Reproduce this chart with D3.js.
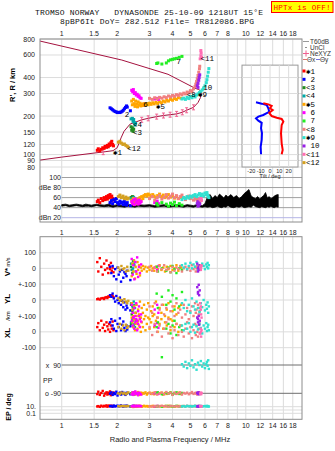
<!DOCTYPE html>
<html>
<head>
<meta charset="utf-8">
<title>Dynasonde ionogram</title>
<script src="https://cdn.jsdelivr.net/npm/d3@7"></script>
<style>
  body { margin: 0; background: #fff; }
  text { font-family: "Liberation Sans", Arial, sans-serif; }
  .mono { font-family: "Liberation Mono", "DejaVu Sans Mono", monospace; }
</style>
</head>
<body>
<svg id="mainsvg" width="335" height="451"></svg>
<script>
// ---- data ----
const freqTicksTop = [1, 1.5, 2, 3, 4, 5, 6, 7, 8, 10, 12, 14, 16, 18]
const freqTicksMid = [1, 1.5, 2, 3, 4, 5, 6, 7, 8, 9, 10, 12, 14, 16, 18]
const freqGrid = [1, 1.5, 2, 3, 4, 5, 6, 7, 8, 9, 10, 12, 14, 16, 18]
const heightTicks = [800, 600, 400, 300, 200, 150, 120, 100, 90, 80]
const dbTicks = [100, 80, 60, 40, 20]
const tiltTicks = [-20, -10, 0, 10, 20]

const traceColors = ['#ff0000', '#0000ff', '#228b22', '#00a8a8', '#ffa500', '#ff00ff',
  '#22ee22', '#f08080', '#30e0d0', '#9a20e8', '#ff6eb4', '#d4a020']
const traceMarks = ['✱', '', '<', '<', '✱', '', '', '<', '✱', '', '<', '<']
const traceNums = ['1', '2', '3', '4', '5', '6', '7', '8', '9', '10', '11', '12']
// label anchor for each trace in the height plot [MHz, km]
const labelF = [1.9, 2.2, 2.44, 2.44, 3.25, 2.77, 4.2, 4.78, 5.5, 5.88, 5.68, 2.27]
const labelH = [105, 207, 150, 172, 240, 250, 535, 300, 300, 340, 570, 113]

// echoes: [freq MHz, virtual height km, amplitude dB, V* m/s, YL km, XL km, PP deg, EP deg]
const echo1 = [[1.56,108,52,40,5,30,-95,12],[1.58,111,55,-20,8,55,-80,15],[1.61,107,50,65,3,10,-100,9],
  [1.64,110,58,10,10,70,-88,20],[1.67,113,54,-40,12,25,-75,11],[1.70,112,60,30,6,45,-105,18],
  [1.72,116,56,-10,15,5,-92,13],[1.75,114,62,50,18,60,-84,25],[1.77,118,57,0,12,35,-98,10],
  [1.79,115,64,-30,22,15,-86,16],[1.81,121,60,20,20,50,-94,22],[1.83,118,66,-5,25,0,-78,14],
  [1.85,124,61,35,28,40,-102,19],[1.87,127,63,-15,30,20,-90,12],[1.89,120,58,5,24,65,-96,17],
  [1.91,117,55,-25,18,10,-85,15]]
const echo2 = [[1.83,232,50,10,30,60,-92,14],[1.86,228,54,-30,20,80,-84,18],[1.89,224,48,15,40,40,-100,10],
  [1.92,220,56,-50,10,20,-88,22],[1.95,217,52,-5,-10,70,-95,12],[1.98,215,58,-70,25,5,-80,16],
  [2.01,213,50,5,0,50,-104,20],[2.04,214,47,-40,-20,30,-90,13],[2.07,213,53,-20,15,85,-86,17],
  [2.10,215,49,-85,-30,10,-98,24],[2.13,218,51,-10,-5,45,-82,15],[2.16,222,46,-60,-45,65,-94,11],
  [2.19,228,52,-25,-15,25,-88,19],[2.22,234,48,-35,-60,5,-100,14],[2.25,240,45,-50,-35,40,-92,21],
  [2.27,235,50,-15,-50,15,-86,16],[2.36,220,44,-75,-65,35,-96,12]]
const echo3 = [[2.38,165,60,10,-30,50,-90,14],[2.42,162,62,-30,-70,70,-95,11],[2.46,158,57,25,-50,30,-85,17],
  [2.40,155,59,-10,-90,60,-92,13],[2.44,152,61,45,-40,85,-88,15]]
const echo4 = [[2.38,190,58,30,-20,60,-92,12],[2.42,192,55,-10,-40,80,-86,15],[2.46,188,60,50,-10,40,-98,10],
  [2.44,182,57,0,-60,90,-90,18],[2.48,178,54,20,-30,50,-94,13],[2.52,175,56,-20,-80,70,-88,16],
  [2.50,170,53,40,-50,30,-96,11]]
const echo5 = [[2.40,262,55,-50,-20,90,-92,10],[2.42,245,50,30,-60,60,-86,14],[2.45,270,58,-20,-100,30,-98,8],
  [2.47,250,52,50,-40,80,-90,16],[2.50,238,48,-65,-120,10,-84,12],[2.52,262,56,10,-80,50,-96,18],
  [2.55,248,53,-35,-30,100,-88,9],[2.58,236,49,40,-140,20,-94,15],[2.60,258,57,-10,-60,70,-82,11],
  [2.63,244,51,20,-90,40,-100,20],[2.66,252,60,-45,-10,90,-90,13],[2.69,240,54,5,-110,0,-86,17],
  [2.72,248,62,-15,-50,60,-95,10],[2.76,242,58,15,-80,30,-88,14],[2.80,250,64,-5,-30,80,-92,19],
  [2.85,244,66,10,-100,10,-84,12],[2.90,250,63,-20,-60,50,-98,16],[2.95,245,67,5,-20,90,-90,11],
  [3.00,252,65,-10,-120,20,-86,15],[3.06,247,62,15,-70,60,-94,13],[3.12,254,66,0,-40,100,-88,18],
  [3.18,249,63,-15,-90,30,-96,10],[3.25,256,60,10,-10,70,-84,14],[3.32,251,64,-5,-110,0,-92,17],
  [3.40,258,67,20,-50,50,-90,12],[3.48,254,62,-10,-80,80,-86,15],[3.56,262,65,5,-30,20,-98,11],
  [3.64,258,60,-20,-100,60,-88,16],[3.72,266,63,10,-60,40,-94,13],[3.80,262,66,-5,-20,90,-90,19],
  [3.90,270,61,15,-120,10,-84,12],[4.00,266,64,-10,-70,70,-96,15],[4.10,274,59,0,-40,30,-88,10],
  [4.20,270,62,20,-90,50,-92,14],[4.30,278,58,-15,-50,0,-86,17],[4.45,276,60,5,-30,40,-94,13]]
const echo6 = [[2.40,318,52,60,-30,70,-96,14],[2.43,310,48,-40,-80,40,-84,18],[2.45,322,55,20,-110,90,-100,11],
  [2.48,300,46,-70,-50,20,-90,22],[2.51,305,57,40,-100,60,-78,15],[2.54,292,50,-20,-20,80,-94,12],
  [2.57,296,53,70,-130,10,-88,20],[2.60,285,47,-55,-70,50,-102,16],[2.63,288,55,10,-40,100,-86,13],
  [2.66,278,49,-30,-120,30,-92,19],[2.70,275,52,25,-90,65,-98,14],[3.20,272,50,5,-60,40,-90,12],
  [3.30,275,53,-10,-30,55,-86,17],[3.35,270,48,15,-80,25,-94,15]]
const echo7 = [[3.28,515,48,10,40,30,-90,12],[3.33,520,45,-20,-50,60,-84,15],[3.50,510,50,0,20,-160,-96,10],
  [3.70,520,47,-15,-30,20,-88,17],[3.80,540,43,5,60,50,-92,13],[3.90,550,49,-25,-10,-10,-86,16],
  [4.00,555,46,15,30,40,-98,11],[4.10,560,51,-5,-60,70,-90,14],[4.20,565,44,-30,10,-20,-84,18],
  [4.35,575,48,0,-40,30,-94,12],[4.50,585,45,-10,50,10,-88,15]]
const echo8 = [[3.00,275,58,10,-40,30,-88,14],[3.10,270,62,-15,-80,-20,-94,11],[3.20,278,55,5,-20,50,-84,17],
  [3.30,273,60,-20,-110,0,-98,12],[3.40,280,64,15,-60,40,-90,15],[3.50,276,57,-5,-30,-30,-86,19],
  [3.60,283,61,20,-90,20,-96,13],[3.70,279,66,-10,-50,60,-82,16],[3.80,287,59,0,-120,-10,-92,10],
  [3.90,283,63,-25,-70,30,-88,18],[4.00,290,67,10,-40,-40,-100,14],[4.10,286,60,-15,-100,10,-86,12],
  [4.20,294,64,5,-20,50,-94,16],[4.30,290,58,-5,-80,-20,-90,11],[4.40,298,62,15,-60,40,-84,15],
  [4.50,294,65,-20,-110,0,-98,13],[4.60,302,60,0,-30,-30,-88,17],[4.70,298,56,10,-90,20,-92,12],
  [4.80,308,61,-10,-50,60,-86,19],[4.90,304,63,5,-120,-10,-96,14],[5.00,316,58,-15,-70,30,-90,11],
  [5.10,312,62,20,-40,-40,-82,16],[5.20,326,55,-5,-100,10,-94,13],[5.30,340,59,10,-20,50,-88,18],
  [5.35,355,57,-20,-80,-20,-92,12],[5.40,372,60,0,-60,40,-86,15],[5.45,392,54,15,-110,0,-98,10],
  [5.50,415,56,-10,-30,-30,-90,14],[5.55,440,52,5,-90,20,-84,17],[5.60,468,55,-5,-50,60,-94,12],
  [5.62,490,50,10,-70,-10,-88,15]]
const echo9 = [[4.50,272,56,20,-20,40,95,12],[4.60,276,60,5,-50,10,80,15],[4.70,270,58,30,0,50,110,10],
  [4.80,280,62,-5,-70,20,70,18],[4.90,274,59,15,-30,55,100,13],[5.00,284,63,35,-80,0,85,16],
  [5.10,278,61,0,10,30,120,11],[5.20,288,64,25,-40,45,75,14],[5.30,282,66,10,-60,-5,95,19],
  [5.40,292,62,40,-10,35,60,12],[5.50,298,65,-10,-50,15,105,15],[5.60,305,68,20,-75,50,90,13],
  [5.70,312,64,5,-20,25,115,17],[5.80,320,67,30,-45,-10,80,11],[5.90,332,63,15,0,40,100,14],
  [6.00,345,69,-5,-65,20,70,16],[6.10,365,66,25,-30,55,95,12],[6.15,385,70,10,-55,5,110,18],
  [6.20,410,65,35,-15,30,85,13],[6.25,440,62,0,-80,45,120,15],[6.30,470,60,20,-40,10,65,11]]
const echo10 = [[5.45,345,48,30,80,90,-88,12],[5.50,360,52,-20,50,60,-94,15],[5.55,380,45,10,95,100,-84,10],
  [5.58,400,50,-10,30,45,-96,17],[5.62,420,47,20,60,70,-90,13],[5.50,335,43,0,40,80,-86,14]]
const echo11 = [[5.65,560,56,10,-20,-10,-92,14],[5.70,590,58,-10,-60,20,-86,11],[5.72,620,54,20,-90,-30,-96,16],
  [5.70,650,57,0,-40,0,-90,12],[5.75,575,55,15,-110,10,-88,15]]
const echo12 = [[2.03,125,62,5,10,30,-90,15],[2.07,127,65,-10,-5,50,-95,12],[2.11,123,60,15,0,20,-85,18],
  [2.15,120,63,-5,-15,40,-92,14],[2.19,121,58,0,5,10,-88,16],[2.23,118,61,-20,-10,45,-96,13],
  [2.27,116,57,10,-20,25,-90,17],[2.30,114,59,-15,-5,35,-84,15]]
const echoes = [echo1, echo2, echo3, echo4, echo5, echo6, echo7, echo8, echo9, echo10, echo11, echo12]

// electron density profile (plasma frequency vs real height), bottomside then topside
const profF = [0.762, 1.0, 1.5, 1.72, 1.9, 2.0, 2.04, 2.1, 2.18, 2.35, 2.72, 2.95, 3.28, 3.57, 3.88, 4.21,
  4.52, 4.77, 5.2, 5.5, 5.68, 5.74, 5.75, 5.55, 5.3, 3.78, 2.12, 0.762]
const profH = [90.6, 95.6, 102.8, 105.3, 107.3, 113, 121, 135, 152, 173, 187, 192, 198, 202, 205, 208,
  214, 222, 234, 255, 280, 300, 312, 322, 330, 424, 548, 771]
const neF = [1.68, 2.72, 2.95, 3.28, 3.57, 3.88, 4.21, 4.52, 4.77, 5.2]
const neH = [104.5, 187, 192, 198, 202, 205, 208, 214, 222, 234]

// receiver noise level
const noiseF = [1.0,1.05,1.1,1.15,1.2,1.25,1.3,1.35,1.4,1.45,1.5,1.55,1.6,1.7,1.8,1.9,2.0,2.1,2.2,2.3,
  2.4,2.5,2.6,2.8,3.0,3.2,3.4,3.6,3.8,4.0,4.2,4.4,4.6,4.8,5.0,5.2,5.4,5.6,5.8,6.0,
  6.2,6.4,6.6,6.8,7.0,7.2,7.4,7.6,7.8,8.0,8.3,8.6,8.9,9.2,9.5,9.8,10.1,10.4,10.7,11.0,
  11.3,11.6,11.9,12.2,12.5,12.8,13.1,13.4,13.7,14.0,14.3,14.6,15.0]
const noiseHi = [46,47,45,46,47,46,45,47,46,45,46,47,46,45,47,44,46,45,44,46,
  45,44,46,45,46,44,45,46,44,45,46,45,44,46,45,44,46,45,44,48,
  62,66,58,64,60,67,63,59,65,61,66,60,64,58,62,68,72,76,63,60,
  58,62,57,61,64,70,59,62,58,60,63,65,66]
const noiseLo = [43,44,42,43,44,43,42,43,43,42,43,44,43,42,43,41,43,42,41,43,
  42,41,43,42,43,41,42,43,41,42,43,42,41,43,42,41,43,42,41,42,
  41,42,40,41,43,41,40,42,41,44,41,40,42,41,43,40,41,42,41,45,
  42,41,40,42,41,40,42,41,43,41,40,42,41]

// wavefront tilt profiles
const tiltYH = [256, 250, 244, 230, 216, 204, 198, 192, 184, 177, 161, 147, 130, 115, 100.5]
const tiltY = [-15, -8.9, -3.5, -1.8, -0.8, -7.2, -12.5, -15, -12.5, -8.9, -9.6, -8.6, -8.9, -10, -9.6]
const tiltXH = [252, 247, 240, 230, 223, 212, 200, 194, 190, 181, 170, 147, 122.5, 108.7, 100.5]
const tiltX = [-7.2, -1.8, 1.8, 0, 2.9, -0.8, 1.8, 7.2, 12.5, 14.3, 12.5, 11.8, 12.5, 13.6, 12.5]

// ---- scales ----
const svg = d3.select('#mainsvg')
const x = d3.scaleLog().domain([0.762, 20.2]).range([40, 302])
const yH = d3.scaleLog().domain([800, 80]).range([39, 167])
const yDb = d3.scaleLinear().domain([100, 20]).range([177.5, 217.7])
const yV = d3.scaleLinear().domain([100, -100]).range([252.7, 284])
const yYL = d3.scaleLinear().domain([100, -100]).range([284, 316])
const yXL = d3.scaleLinear().domain([100, -100]).range([316, 347.7])
const yPP = d3.scaleLinear().domain([90, -90]).range([365, 393.3])
const yEP = d3.scaleLog().domain([10, 0.1]).range([406.7, 413.3])
const xT = d3.scaleLinear().domain([-30, 30]).range([242, 298])

const gridC = '#dcdcdc'
const frameC = '#8c8c8c'

// ---- header ----
svg.append('text').attr('class', 'mono').attr('x', 35).attr('y', 15)
  .attr('font-size', 8).attr('textLength', 228).attr('lengthAdjust', 'spacing')
  .attr('xml:space', 'preserve').attr('fill', '#111')
  .text('TROMSO NORWAY   DYNASONDE 25-10-09 1218UT 15°E')
svg.append('text').attr('class', 'mono').attr('x', 60).attr('y', 23.5)
  .attr('font-size', 8).attr('textLength', 194).attr('lengthAdjust', 'spacing').attr('fill', '#111')
  .text('8pBP6It DoY= 282.512 File= TR812086.BPG')
svg.append('rect').attr('x', 271.5).attr('y', 1.5).attr('width', 61.5).attr('height', 11)
  .attr('fill', '#ffff00').attr('stroke', '#ff0000')
svg.append('text').attr('class', 'mono').attr('x', 273.5).attr('y', 10)
  .attr('font-size', 7.6).attr('fill', '#ff0000').attr('textLength', 57).attr('lengthAdjust', 'spacing')
  .text('HPTx is OFF!')

// ---- top panel: grid ----
const topG = svg.append('g')
topG.selectAll('line.vg').data(freqGrid).join('line')
  .attr('x1', d => x(d)).attr('x2', d => x(d)).attr('y1', 39).attr('y2', 222)
  .attr('stroke', gridC).attr('stroke-width', 1)
topG.selectAll('line.hg').data(heightTicks).join('line')
  .attr('x1', 40).attr('x2', 302).attr('y1', d => yH(d)).attr('y2', d => yH(d))
  .attr('stroke', gridC)
topG.selectAll('line.dg').data(dbTicks).join('line')
  .attr('x1', x(1)).attr('x2', 302).attr('y1', d => yDb(d)).attr('y2', d => yDb(d))
  .attr('stroke', d => d === 20 ? '#b4b4e6' : '#a0a0a0')

// axis labels
svg.selectAll('text.fTop').data(freqTicksTop).join('text')
  .attr('x', d => x(d)).attr('y', 35.5).attr('text-anchor', 'middle')
  .attr('font-size', 7).attr('fill', '#222').text(d => d)
svg.selectAll('text.fMid').data(freqTicksMid).join('text')
  .attr('x', d => x(d)).attr('y', 234.5).attr('text-anchor', 'middle')
  .attr('font-size', 7).attr('fill', '#222').text(d => d)
svg.selectAll('text.fBot').data(freqTicksTop).join('text')
  .attr('x', d => x(d)).attr('y', 427.5).attr('text-anchor', 'middle')
  .attr('font-size', 7).attr('fill', '#222').text(d => d)
svg.selectAll('text.hLab').data(heightTicks).join('text')
  .attr('x', 35).attr('y', d => yH(d) + 2.5).attr('text-anchor', 'end')
  .attr('font-size', 7).attr('fill', '#222').text(d => d)
const dbNames = {100: '100', 80: 'dBe 80', 60: '60', 40: '40', 20: 'dBn 20'}
svg.selectAll('text.dbLab').data(dbTicks).join('text')
  .attr('x', 61).attr('y', d => yDb(d) + 2.5).attr('text-anchor', 'end')
  .attr('font-size', 7).attr('fill', '#222').text(d => dbNames[d])
svg.append('text').attr('transform', 'translate(15,85) rotate(-90)')
  .attr('text-anchor', 'middle').attr('font-size', 7.5).attr('font-weight', 'bold')
  .text("R', R / km")

// clip for the height plot
svg.append('clipPath').attr('id', 'hclip').append('rect')
  .attr('x', 40).attr('y', 39).attr('width', 262).attr('height', 131)

// ---- tilt inset ----
const inset = svg.append('g')
inset.append('rect').attr('x', xT(-30)).attr('y', yH(500))
  .attr('width', xT(30) - xT(-30)).attr('height', yH(80) - yH(500))
  .attr('fill', '#fff').attr('stroke', '#9a9a9a')
inset.selectAll('line.tv').data(tiltTicks).join('line')
  .attr('x1', d => xT(d)).attr('x2', d => xT(d)).attr('y1', yH(500)).attr('y2', yH(80))
  .attr('stroke', gridC)
inset.selectAll('line.th').data(heightTicks.filter(h => h < 500 && h > 80)).join('line')
  .attr('x1', xT(-30)).attr('x2', xT(30)).attr('y1', d => yH(d)).attr('y2', d => yH(d))
  .attr('stroke', gridC)
inset.selectAll('text.tl').data(tiltTicks).join('text')
  .attr('x', d => xT(d)).attr('y', 172.5).attr('text-anchor', 'middle')
  .attr('font-size', 5.5).attr('fill', '#222').text(d => d)
inset.append('text').attr('x', xT(0)).attr('y', 177.5).attr('text-anchor', 'middle')
  .attr('font-size', 5.5).attr('fill', '#222').text('Tilt / deg')
const tiltLine = d3.line()
inset.append('path')
  .attr('d', tiltLine(tiltY.map((t, i) => [xT(t), yH(tiltYH[i])])))
  .attr('fill', 'none').attr('stroke', '#0000ff').attr('stroke-width', 2)
inset.append('path')
  .attr('d', tiltLine(tiltX.map((t, i) => [xT(t), yH(tiltXH[i])])))
  .attr('fill', 'none').attr('stroke', '#ff0000').attr('stroke-width', 2)

// ---- height plot: profile and echoes ----
const hp = svg.append('g').attr('clip-path', 'url(#hclip)')
hp.append('path')
  .attr('d', d3.line()(profF.map((f, i) => [x(f), yH(profH[i])])))
  .attr('fill', 'none').attr('stroke', '#a5123f').attr('stroke-width', 1)
const nePath = d => `M${x(d[0]) - 1.5},${yH(d[1]) - 2.5}h3M${x(d[0])},${yH(d[1]) - 2.5}v5M${x(d[0]) - 1.5},${yH(d[1]) + 2.5}h3`
hp.selectAll('path.ne').data(neF.map((f, i) => [f, neH[i]])).join('path')
  .attr('d', nePath).attr('stroke', '#f06090').attr('stroke-width', 1).attr('fill', 'none')

echoes.forEach((echo, k) => {
  hp.append('g').selectAll('rect').data(echo).join('rect')
    .attr('x', d => x(d[0]) - 1.5).attr('y', d => yH(d[1]) - 1.5)
    .attr('width', 3).attr('height', 3).attr('fill', traceColors[k])
})

// trace labels
svg.append('g').selectAll('text').data(traceNums).join('text')
  .attr('class', 'mono')
  .attr('x', (d, i) => x(labelF[i])).attr('y', (d, i) => yH(labelH[i]) + 3)
  .attr('font-size', 7.5).attr('fill', '#000')
  .text((d, i) => traceMarks[i] + d)

// ---- amplitude panel ----
const noiseArea = d3.area()
  .x((d, i) => x(noiseF[i])).y0((d, i) => yDb(noiseLo[i])).y1((d, i) => yDb(noiseHi[i]))
svg.append('path').attr('d', noiseArea(noiseF)).attr('fill', '#000')
  .attr('stroke', '#000').attr('stroke-width', 0.8)
echoes.forEach((echo, k) => {
  svg.append('g').selectAll('rect').data(echo).join('rect')
    .attr('x', d => x(d[0]) - 1.5).attr('y', d => yDb(d[2]) - 1.5)
    .attr('width', 3).attr('height', 3).attr('fill', traceColors[k])
})

// top frame
svg.append('rect').attr('x', 40).attr('y', 39).attr('width', 262).attr('height', 183)
  .attr('fill', 'none').attr('stroke', frameC)

// ---- legend ----
const lg = svg.append('g')
lg.append('line').attr('x1', 303).attr('x2', 309).attr('y1', 41.5).attr('y2', 41.5).attr('stroke', '#999')
lg.append('text').attr('x', 310).attr('y', 44).attr('font-size', 6.5).attr('fill', '#333').text('T60dB')
lg.append('circle').attr('cx', 306).attr('cy', 47.5).attr('r', 0.6).attr('fill', '#000')
lg.append('text').attr('x', 310).attr('y', 50).attr('font-size', 6.5).attr('fill', '#333').text('UnCl')
lg.append('path').attr('d', 'M303,53.5h6M306,50.5v6').attr('stroke', '#f06090')
lg.append('text').attr('x', 310).attr('y', 56).attr('font-size', 6.5).attr('fill', '#333').text('NeXYZ')
lg.append('line').attr('x1', 303).attr('x2', 307).attr('y1', 59.5).attr('y2', 59.5).attr('stroke', '#e07070')
lg.append('text').attr('x', 307).attr('y', 62).attr('font-size', 6.5).attr('fill', '#333').text('Θx')
lg.append('line').attr('x1', 316).attr('x2', 320).attr('y1', 59.5).attr('y2', 59.5).attr('stroke', '#7070e0')
lg.append('text').attr('x', 320).attr('y', 62).attr('font-size', 6.5).attr('fill', '#333').text('Θy')
lg.append('g').selectAll('rect').data(traceColors).join('rect')
  .attr('x', 302.5).attr('y', (d, i) => 69.5 + i * 8.33)
  .attr('width', 3).attr('height', 3).attr('fill', d => d)
lg.append('g').selectAll('text').data(traceMarks).join('text')
  .attr('class', 'mono').attr('x', 306).attr('y', (d, i) => 73.5 + i * 8.33)
  .attr('font-size', 7.5).text(d => d)
lg.append('g').selectAll('text').data(traceNums).join('text')
  .attr('class', 'mono').attr('x', 310.5).attr('y', (d, i) => 73.5 + i * 8.33)
  .attr('font-size', 7.5).text(d => d)

// ---- lower panel ----
const low = svg.append('g')
low.append('g').selectAll('line').data(freqGrid).join('line')
  .attr('x1', d => x(d)).attr('x2', d => x(d)).attr('y1', 236.7).attr('y2', 419.3)
  .attr('stroke', gridC)
const lowLines = [yV(100), yV(0), yV(-100), yYL(0), yXL(0), yXL(-100), yEP(10), yEP(1), yEP(0.1)]
low.append('g').selectAll('line').data(lowLines).join('line')
  .attr('x1', 40).attr('x2', 302).attr('y1', d => d).attr('y2', d => d)
  .attr('stroke', gridC)
low.append('g').selectAll('line').data([90, -90]).join('line')
  .attr('x1', x(1)).attr('x2', 302).attr('y1', d => yPP(d)).attr('y2', d => yPP(d))
  .attr('stroke', '#6e6e6e')

const lowLabels = [
  [yV(100), '100'], [yV(0), '0'], [yV(-100), '+-100'], [yYL(0), '0'],
  [yXL(100), '+-100'], [yXL(0), '0'], [yXL(-100), '-100'], [yEP(10), '10.'], [yEP(0.1), '0.1']
]
low.append('g').selectAll('text').data(lowLabels).join('text')
  .attr('x', 36).attr('y', d => d[0] + 2.5).attr('text-anchor', 'end')
  .attr('font-size', 7).attr('fill', '#222').text(d => d[1])
low.append('text').attr('x', 61).attr('y', yPP(90) + 2.5).attr('text-anchor', 'end')
  .attr('font-size', 7).attr('fill', '#222').attr('xml:space', 'preserve').text('x  90')
low.append('text').attr('x', 61).attr('y', yPP(-90) + 2.5).attr('text-anchor', 'end')
  .attr('font-size', 7).attr('fill', '#222').text('o -90')
low.append('text').attr('x', 43).attr('y', 382.5)
  .attr('font-size', 7).attr('fill', '#222').text('PP')

const rotLabel = (cx, cy, size, weight, txt) => svg.append('text')
  .attr('transform', `translate(${cx},${cy}) rotate(-90)`)
  .attr('text-anchor', 'middle').attr('font-size', size).attr('font-weight', weight).text(txt)
rotLabel(10, 272, 8, 'bold', 'V*')
rotLabel(10, 262, 5.5, 'normal', 'm/s')
rotLabel(10, 299, 8, 'bold', 'YL')
rotLabel(10, 316, 6, 'normal', '/km')
rotLabel(10, 333, 8, 'bold', 'XL')
rotLabel(11, 407, 7, 'bold', 'EP / deg')

echoes.forEach((echo, k) => {
  const c = traceColors[k]
  const dot = (fy) => low.append('g').selectAll('rect').data(echo).join('rect')
    .attr('x', d => x(d[0]) - 1.2).attr('y', d => fy(d) - 1.2)
    .attr('width', 2.4).attr('height', 2.4).attr('fill', c)
  dot(d => yV(d[3]))
  dot(d => yYL(d[4]))
  dot(d => yXL(d[5]))
  dot(d => yPP(d[6]))
  dot(d => yEP(d[7]))
})

svg.append('rect').attr('x', 40).attr('y', 236.7).attr('width', 262).attr('height', 182.6)
  .attr('fill', 'none').attr('stroke', frameC)
svg.append('text').attr('x', 170).attr('y', 441.5).attr('text-anchor', 'middle')
  .attr('font-size', 7.5).attr('fill', '#222').text('Radio and Plasma Frequency / MHz')
</script>
</body>
</html>
